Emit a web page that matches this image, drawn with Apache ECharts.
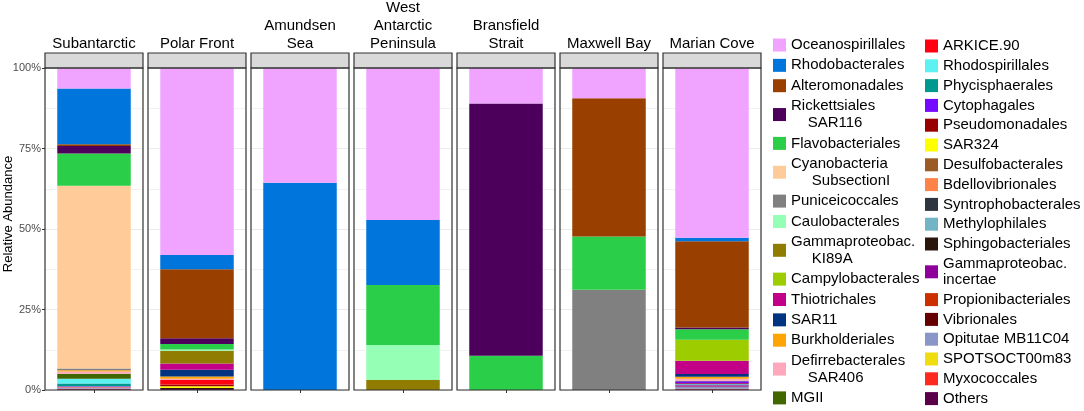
<!DOCTYPE html>
<html>
<head>
<meta charset="utf-8">
<title>Relative Abundance</title>
<script src="https://cdn.jsdelivr.net/npm/echarts@6.0.0/dist/echarts.min.js"></script>
<style>html, body { margin: 0; padding: 0; background: #fff; }</style>
</head>
<body>
<div id="container" style="width: 1084px; height: 411px"></div>
<script>
// sites, left to right
var sites = ['Subantarctic', 'Polar Front', 'Amundsen\nSea', 'West\nAntarctic\nPeninsula',
             'Bransfield\nStrait', 'Maxwell Bay', 'Marian Cove'];
var yTicks = ['0%', '25%', '50%', '75%', '100%'];

// relative abundance (%) of each order per site, same order as sites
var oceanospirillales   = [6.3, 58.1, 35.6, 47.2, 11.0, 9.4, 52.6];
var rhodobacterales     = [17.3, 4.4, 64.4, 20.2, 0, 0, 1.1];
var alteromonadales     = [0.6, 21.4, 0, 0, 0, 42.9, 26.8];
var rickettsiales       = [2.3, 1.8, 0, 0, 78.35, 0, 0.5];
var flavobacteriales    = [10.0, 1.7, 0, 18.6, 10.65, 16.6, 3.3];
var cyanobacteria       = [56.8, 0, 0, 0, 0, 0, 0];
var puniceicoccales     = [0.5, 0, 0, 0, 0, 31.1, 0];
var caulobacterales     = [0, 0.4, 0, 10.9, 0, 0, 0];
var ki89a               = [0, 4.0, 0, 3.1, 0, 0, 0];
var campylobacterales   = [0, 0, 0, 0, 0, 0, 6.5];
var thiotrichales       = [0, 1.9, 0, 0, 0, 0, 4.1];
var sar11               = [0, 2.1, 0, 0, 0, 0, 0.9];
var burkholderiales     = [0.4, 0.7, 0, 0, 0, 0, 0.6];
var defirrebacterales   = [0.7, 0.4, 0, 0, 0, 0, 0.6];
var mgii                = [1.55, 0, 0, 0, 0, 0, 0.2];
var arkice90            = [0, 1.4, 0, 0, 0, 0, 0];
var rhodospirillales    = [1.45, 0, 0, 0, 0, 0, 0];
var phycisphaerales     = [0.85, 0, 0, 0, 0, 0, 0];
var cytophagales        = [0.2, 0, 0, 0, 0, 0, 0.6];
var pseudomonadales     = [0, 0.5, 0, 0, 0, 0, 0.2];
var sar324              = [0, 0.6, 0, 0, 0, 0, 0];
var desulfobacterales   = [0, 0, 0, 0, 0, 0, 0];
var bdellovibrionales   = [0.2, 0, 0, 0, 0, 0, 0];
var syntrophobacterales = [0, 0, 0, 0, 0, 0, 0];
var methylophilales     = [0, 0, 0, 0, 0, 0, 0.4];
var sphingobacteriales  = [0, 0.3, 0, 0, 0, 0, 0];
var gammaIncertae       = [0.2, 0, 0, 0, 0, 0, 0.4];
var propionibacteriales = [0, 0, 0, 0, 0, 0, 0.2];
var vibrionales         = [0, 0, 0, 0, 0, 0, 0];
var opitutae            = [0.2, 0, 0, 0, 0, 0, 0.5];
var spotsoct            = [0, 0, 0, 0, 0, 0, 0];
var myxococcales        = [0.2, 0, 0, 0, 0, 0, 0.2];
var others              = [0.2, 0.3, 0, 0, 0, 0, 0.2];

var taxonNames = [
    'Oceanospirillales', 'Rhodobacterales', 'Alteromonadales', 'Rickettsiales\n    SAR116',
    'Flavobacteriales', 'Cyanobacteria\n     SubsectionI', 'Puniceicoccales', 'Caulobacterales',
    'Gammaproteobac.\n     KI89A', 'Campylobacterales', 'Thiotrichales', 'SAR11',
    'Burkholderiales', 'Defirrebacterales\n    SAR406', 'MGII',
    'ARKICE.90', 'Rhodospirillales', 'Phycisphaerales', 'Cytophagales', 'Pseudomonadales',
    'SAR324', 'Desulfobacterales', 'Bdellovibrionales', 'Syntrophobacterales', 'Methylophilales',
    'Sphingobacteriales', 'Gammaproteobac.\nincertae', 'Propionibacteriales', 'Vibrionales',
    'Opitutae MB11C04', 'SPOTSOCT00m83', 'Myxococcales', 'Others'
];
var taxonValues = [
    oceanospirillales, rhodobacterales, alteromonadales, rickettsiales,
    flavobacteriales, cyanobacteria, puniceicoccales, caulobacterales,
    ki89a, campylobacterales, thiotrichales, sar11,
    burkholderiales, defirrebacterales, mgii,
    arkice90, rhodospirillales, phycisphaerales, cytophagales, pseudomonadales,
    sar324, desulfobacterales, bdellovibrionales, syntrophobacterales, methylophilales,
    sphingobacteriales, gammaIncertae, propionibacteriales, vibrionales,
    opitutae, spotsoct, myxococcales, others
];
var palette = [
    '#F0A3FF', '#0075DC', '#993F00', '#4C005C',
    '#2BCE48', '#FFCC99', '#808080', '#94FFB5',
    '#8F7C00', '#9DCC00', '#C20088', '#003380',
    '#FFA405', '#FFA8BB', '#426600',
    '#FF0010', '#5EF1F2', '#00998F', '#740AFF', '#990000',
    '#FFFF00', '#9A5C24', '#FF8248', '#2E3440', '#72B3C5',
    '#2A160C', '#8E0099', '#CC3000', '#660000',
    '#8B96C8', '#F0DD10', '#FF2A1F', '#5A0048'
];

var font = '"Liberation Sans", Arial, Helvetica, sans-serif';
var left0 = 45, step = 103, panelW = 98, plotTop = 68, plotH = 322;

var myChart = echarts.init(document.getElementById('container'));

var grids = [], xAxes = [], yAxes = [], series = [], graphics = [];

sites.forEach(function (site, p) {
    var left = left0 + p * step;
    grids.push({left: left, top: plotTop, width: panelW, height: plotH, show: false});
    xAxes.push({
        type: 'category', gridIndex: p, data: [''],
        axisLine: {show: false},
        axisTick: {show: true, length: 3, alignWithLabel: true, lineStyle: {color: '#333'}},
        axisLabel: {show: false},
        splitLine: {show: false}
    });
    yAxes.push({
        type: 'value', gridIndex: p, min: 0, max: 100, interval: 25,
        axisLine: {show: false},
        axisTick: {show: p === 0, length: 3, lineStyle: {color: '#333'}},
        axisLabel: {
            show: p === 0, fontSize: 11, color: '#4D4D4D', fontFamily: font, margin: 4,
            formatter: function (v) { return yTicks[v / 25]; }
        },
        splitLine: {show: true, lineStyle: {color: '#EBEBEB', width: 1}},
        minorTick: {show: false, splitNumber: 2},
        minorSplitLine: {show: true, lineStyle: {color: '#F2F2F2', width: 1}}
    });
    // strip + panel frame
    graphics.push({
        type: 'rect', shape: {x: left, y: 53, width: panelW, height: 15},
        style: {fill: '#D9D9D9', stroke: '#333', lineWidth: 1.2}, z: 100
    });
    graphics.push({
        type: 'rect', shape: {x: left, y: plotTop, width: panelW, height: plotH},
        style: {fill: 'none', stroke: '#333', lineWidth: 1.2}, z: 100
    });
    graphics.push({
        type: 'text', x: left + panelW / 2, y: 53, z: 100,
        style: {
            text: site, align: 'center', verticalAlign: 'bottom', textAlign: 'center',
            textVerticalAlign: 'bottom', fill: '#000', font: '15px ' + font, lineHeight: 18
        }
    });
});

// first taxon ends on top of the stack, so add them from the last one
for (var t = taxonNames.length - 1; t >= 0; t--) {
    sites.forEach(function (site, p) {
        series.push({
            type: 'bar', name: taxonNames[t], stack: 'site' + p,
            xAxisIndex: p, yAxisIndex: p,
            data: [taxonValues[t][p]],
            barWidth: '75%',
            itemStyle: {color: palette[t]},
            emphasis: {disabled: true}
        });
    });
}

graphics.push({
    type: 'text', x: 8, y: 214, rotation: Math.PI / 2, z: 100,
    style: {
        text: 'Relative Abundance', align: 'center', verticalAlign: 'middle',
        textAlign: 'center', textVerticalAlign: 'middle', fill: '#000', font: '13px ' + font
    }
});

option = {
    animation: false,
    grid: grids,
    xAxis: xAxes,
    yAxis: yAxes,
    legend: [
        {orient: 'vertical', left: 773, top: 36.5, padding: 0, itemWidth: 13, itemHeight: 13, itemGap: 3.35,
         icon: 'rect', selectedMode: false,
         textStyle: {fontSize: 15, lineHeight: 17, color: '#000', fontFamily: font},
         data: taxonNames.slice(0, 15)},
        {orient: 'vertical', left: 925, top: 38, padding: 0, itemWidth: 13, itemHeight: 13, itemGap: 3.8,
         icon: 'rect', selectedMode: false,
         textStyle: {fontSize: 15, lineHeight: 16, color: '#000', fontFamily: font},
         data: taxonNames.slice(15)}
    ],
    graphic: graphics,
    series: series
};

myChart.setOption(option);
</script>
</body>
</html>
